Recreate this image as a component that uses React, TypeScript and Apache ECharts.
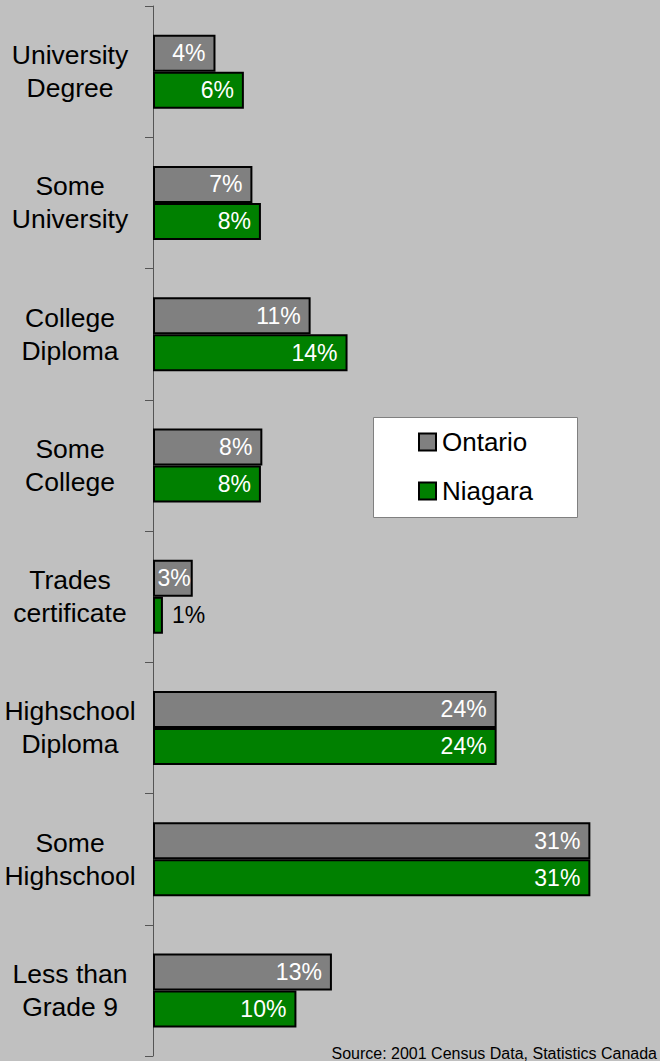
import React, { useEffect, useRef } from "react";
import * as echarts from "echarts";

const categories = [
  "University\nDegree",
  "Some\nUniversity",
  "College\nDiploma",
  "Some\nCollege",
  "Trades\ncertificate",
  "Highschool\nDiploma",
  "Some\nHighschool",
  "Less than\nGrade 9",
];
const ontario = [4.4, 7.0, 11.1, 7.7, 2.8, 24.2, 30.8, 12.6];
const niagara = [6.4, 7.6, 13.7, 7.6, 0.7, 24.2, 30.8, 10.1];
const seriesNames = ["Ontario", "Niagara"];
const sourceText = "Source: 2001 Census Data, Statistics Canada";

const FONT = "'Liberation Sans', Arial, Helvetica, sans-serif";

function buildData(values: number[]) {
  return values.map((v) => {
    if (v < 1.5) {
      return {
        value: v,
        label: { position: "right", color: "#000000", distance: 9 },
      };
    }
    if (v < 3.5) {
      return { value: v, label: { distance: 2 } };
    }
    return { value: v };
  });
}

export default function App() {
  const ref = useRef<HTMLDivElement>(null);
  useEffect(() => {
    if (!ref.current) return;
    const chart = echarts.init(ref.current, undefined, { renderer: "svg" });
    const barLabel = {
      show: true,
      position: "insideRight",
      distance: 10,
      color: "#ffffff",
      fontSize: 23,
      fontFamily: FONT,
      formatter: (p: any) => Math.round(p.value) + "%",
    };
    chart.setOption({
      animation: false,
      backgroundColor: "#C0C0C0",
      textStyle: { fontFamily: FONT },
      grid: { left: 153, top: 6, bottom: 5, right: 10, containLabel: false },
      xAxis: {
        type: "value",
        min: 0,
        max: 35,
        show: false,
        splitLine: { show: false },
      },
      yAxis: {
        type: "category",
        data: categories,
        inverse: true,
        axisLine: { show: true, lineStyle: { color: "#555555", width: 1 } },
        axisTick: { show: true, length: 8, lineStyle: { color: "#555555" } },
        axisLabel: {
          align: "center",
          margin: 83,
          color: "#000000",
          fontSize: 26.5,
          lineHeight: 33,
          fontFamily: FONT,
        },
      },
      legend: {
        data: seriesNames,
        orient: "vertical",
        left: 418,
        top: 427,
        padding: 0,
        itemGap: 19,
        itemWidth: 17,
        itemHeight: 17,
        icon: "rect",
        textStyle: {
          fontSize: 26,
          lineHeight: 30,
          color: "#000000",
          fontFamily: FONT,
          padding: [0, 0, 0, 1],
        },
        itemStyle: { borderColor: "#000000", borderWidth: 2 },
      },
      title: {
        text: sourceText,
        right: 3,
        bottom: 0,
        padding: 0,
        textStyle: {
          fontSize: 16,
          fontWeight: "normal",
          color: "#000000",
          fontFamily: FONT,
        },
      },
      graphic: [
        {
          type: "rect",
          left: 373,
          top: 417,
          z: -1,
          shape: { width: 204, height: 100 },
          style: { fill: "#ffffff", stroke: "#808080", lineWidth: 1 },
        },
      ],
      series: [
        {
          name: seriesNames[0],
          type: "bar",
          data: buildData(ontario),
          barWidth: 37,
          barGap: "0%",
          itemStyle: { color: "#808080", borderColor: "#000000", borderWidth: 2 },
          label: barLabel,
        },
        {
          name: seriesNames[1],
          type: "bar",
          data: buildData(niagara),
          barWidth: 37,
          barGap: "0%",
          itemStyle: { color: "#008000", borderColor: "#000000", borderWidth: 2 },
          label: barLabel,
        },
      ],
    });
    return () => chart.dispose();
  }, []);
  return (
    <div
      ref={ref}
      style={{
        position: "fixed",
        left: 0,
        top: 0,
        width: 660,
        height: 1061,
        background: "#C0C0C0",
      }}
    />
  );
}
